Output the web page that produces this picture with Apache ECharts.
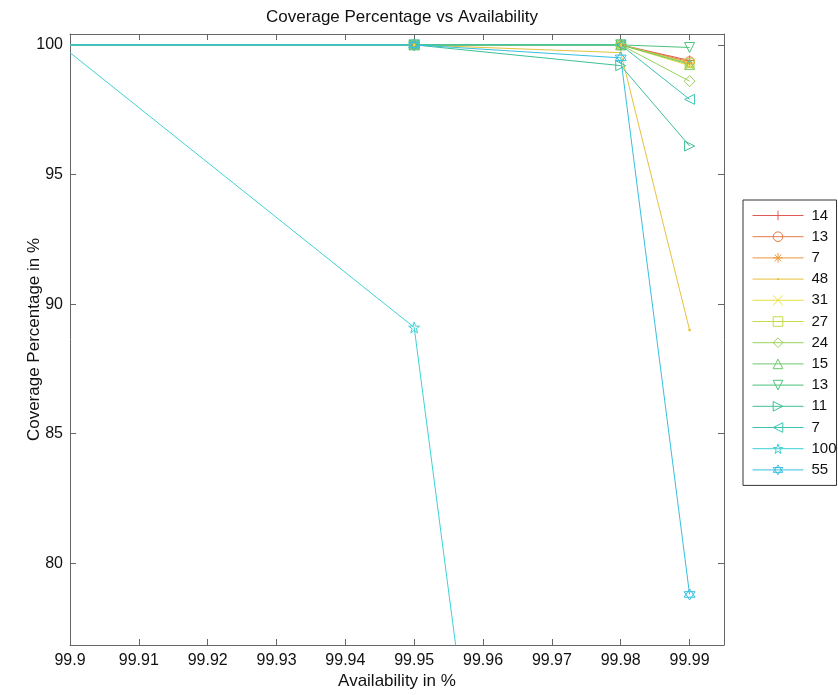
<!DOCTYPE html>
<html><head><meta charset="utf-8">
<script src="https://cdn.jsdelivr.net/npm/echarts@6/dist/echarts.min.js"></script>
<style>html,body{margin:0;padding:0;background:#fff}#c{width:838px;height:695px}</style>
</head><body><div id="c"></div>
<script>
// ---- data ----
const availability = [99.9, 99.95, 99.98, 99.99];
const seriesLabels = ['14', '13', '7', '48', '31', '27', '24', '15', '13', '11', '7', '100', '55'];
const cov14  = [100, 100, 100, 99.4];
const cov13a = [100, 100, 100, 99.35];
const cov7a  = [100, 100, 100, 99.3];
const cov48  = [100, 100, 99.7, 89.0];
const cov31  = [100, 100, 100, 99.2];
const cov27  = [100, 100, 100, 99.3];
const cov24  = [100, 100, 100, 98.6];
const cov15  = [100, 100, 100, 99.25];
const cov13b = [100, 100, 100, 99.9];
const cov11  = [100, 100, 99.2, 96.1];
const cov7b  = [100, 100, 100, 97.9];
const cov100 = [99.7, 89.1, 28, null];
const cov55  = [100, 100, 99.5, 78.8];
const xTicks = [99.9, 99.91, 99.92, 99.93, 99.94, 99.95, 99.96, 99.97, 99.98, 99.99];
const yTicks = [80, 85, 90, 95, 100];

// ---- styles ----
const allValues = [cov14, cov13a, cov7a, cov48, cov31, cov27, cov24, cov15, cov13b, cov11, cov7b, cov100, cov55];
const colors = ['#e05a55', '#e57a45', '#eb9a3c', '#e6c23a', '#e8e040', '#c4dc48', '#9ad25a', '#6cc86a', '#4cc27a', '#3cc196', '#3cc3b4', '#3ed2d6', '#38bfe0'];
const symbols = [
  'path://M5,0L5,10M0,5L10,5',
  'circle',
  'path://M5,0L5,10M0,5L10,5M1.5,1.5L8.5,8.5M8.5,1.5L1.5,8.5',
  'path://M0,0L0,0M10,10L10,10M4,4L6,4L6,6L4,6Z',
  'path://M0,0L10,10M10,0L0,10',
  'rect',
  'diamond',
  'triangle',
  'path://M0,0L10,0L5,10Z',
  'path://M0,0L10,5L0,10Z',
  'path://M10,0L0,5L10,10Z',
  'path://M5,0L6.12,3.45L9.76,3.45L6.82,5.59L7.94,9.05L5,6.91L2.06,9.05L3.18,5.59L0.24,3.45L3.88,3.45Z',
  'path://M5,0L9.33,7.5L0.67,7.5Z M5,10L0.67,2.5L9.33,2.5Z'
];
const sizes = [10, 10, 10, 12, 9, 9, 11, 10, 10, 10, 10, 11, 11];
const FONT = '"Liberation Sans", Arial, sans-serif';

const series = allValues.map((vals, k) => {
  const filled = k === 3;
  return {
    name: seriesLabels[k] + '#' + k,
    type: 'line',
    symbol: symbols[k],
    symbolSize: sizes[k],
    showSymbol: true,
    lineStyle: { color: colors[k], width: 1 },
    itemStyle: filled ? { color: colors[k], borderWidth: 0 } : { color: 'rgba(255,255,255,0)', borderColor: colors[k], borderWidth: 1 },
    emphasis: { disabled: true },
    data: availability.map((x, i) => i === 0 ? { value: [x, vals[i]], symbol: 'none' } : [x, vals[i]]),
    connectNulls: false
  };
});

const axisLineCol = '#666';
const chart = echarts.init(document.getElementById('c'));
chart.setOption({
  animation: false,
  backgroundColor: '#fff',
  title: { text: 'Coverage Percentage vs Availability', left: 397, textAlign: 'center', top: 4,
    textStyle: { fontFamily: FONT, fontSize: 17, fontWeight: 'normal', color: '#111' } },
  grid: { left: 70, right: 114, top: 34, bottom: 48 },
  legend: {
    orient: 'vertical', left: 743, top: 200,
    padding: [8, 0, 8, 9],
    itemWidth: 51, itemHeight: 12, itemGap: 6.2,
    borderColor: '#333', borderWidth: 1, backgroundColor: '#fff',
    lineStyle: { width: 1 },
    itemStyle: { borderWidth: 1 },
    data: series.map(s => s.name),
    formatter: n => n.split('#')[0],
    textStyle: { fontFamily: FONT, fontSize: 15, color: '#111', padding: [0, 0, 0, 3] }
  },
  xAxis: [
    { type: 'value', min: 99.9, max: 99.995, position: 'bottom',
      name: 'Availability in %', nameLocation: 'middle', nameGap: 28, nameMoveOverlap: false,
      nameTextStyle: { fontFamily: FONT, fontSize: 17, color: '#111' },
      axisLine: { show: true, onZero: false, lineStyle: { color: axisLineCol } },
      axisTick: { show: true, inside: true, length: 6, customValues: xTicks, lineStyle: { color: axisLineCol } },
      axisLabel: { customValues: xTicks, formatter: v => String(v), fontFamily: FONT, fontSize: 16, color: '#111', margin: 8 },
      splitLine: { show: false } },
    { type: 'value', min: 99.9, max: 99.995, position: 'top',
      axisLine: { show: true, onZero: false, lineStyle: { color: axisLineCol } },
      axisTick: { show: true, inside: true, length: 6, customValues: xTicks, lineStyle: { color: axisLineCol } },
      axisLabel: { show: false }, splitLine: { show: false } }
  ],
  yAxis: [
    { type: 'value', min: 76.85, max: 100.42, position: 'left',
      name: 'Coverage Percentage in %', nameLocation: 'middle', nameGap: 27, nameMoveOverlap: false,
      nameTextStyle: { fontFamily: FONT, fontSize: 17, color: '#111' },
      axisLine: { show: true, onZero: false, lineStyle: { color: axisLineCol } },
      axisTick: { show: true, inside: true, length: 6, customValues: yTicks, lineStyle: { color: axisLineCol } },
      axisLabel: { customValues: yTicks, formatter: v => String(v), fontFamily: FONT, fontSize: 16, color: '#111', margin: 7 },
      splitLine: { show: false } },
    { type: 'value', min: 76.85, max: 100.42, position: 'right',
      axisLine: { show: true, onZero: false, lineStyle: { color: axisLineCol } },
      axisTick: { show: true, inside: true, length: 6, customValues: yTicks, lineStyle: { color: axisLineCol } },
      axisLabel: { show: false }, splitLine: { show: false } }
  ],
  series: series
});
</script>
</body></html>
